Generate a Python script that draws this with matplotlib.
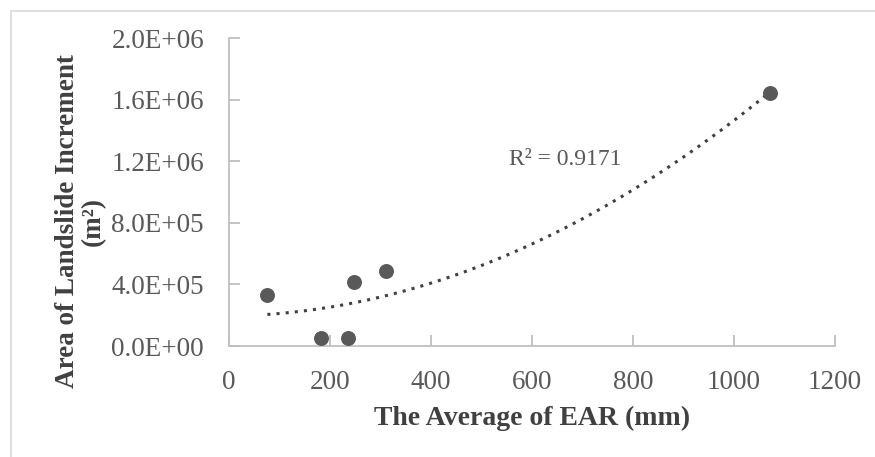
import numpy as np
import matplotlib.pyplot as plt
from matplotlib.patches import Rectangle
from matplotlib.ticker import FuncFormatter

# average EAR (mm) vs landslide area increment (m2)
ear_mm = [76, 182, 235, 248, 311, 1071]
area_m2 = [3.3e5, 5.0e4, 5.0e4, 4.16e5, 4.87e5, 1.643e6]
r2_label = "R² = 0.9171"

plt.rcParams['font.family'] = ['Liberation Serif', 'DejaVu Serif']

fig = plt.figure(figsize=(8.75, 4.57), dpi=100)
fig.patches.append(Rectangle((11 / 875, -0.05), 1.2, 1 - 11 / 457 + 0.05,
                             transform=fig.transFigure, fill=False,
                             edgecolor='#d9d9d9', linewidth=1.2))
ax = fig.add_axes([229 / 875, 1 - 346 / 457, 606 / 875, 308 / 457])

# 2nd order polynomial trendline
coef = np.polyfit(ear_mm, area_m2, 2)
xs = np.linspace(min(ear_mm), max(ear_mm), 200)
ax.plot(xs, np.polyval(coef, xs), linestyle=(0, (1, 2)), color='#404040', linewidth=2.2)
ax.scatter(ear_mm, area_m2, s=95, color='#595959', zorder=3)

ax.set_xlim(0, 1200)
ax.set_ylim(0, 2.0e6)
ax.set_xticks(range(0, 1201, 200))
ax.set_yticks(np.arange(0, 2.01e6, 4e5))
ax.yaxis.set_major_formatter(FuncFormatter(lambda v, p: "%.1E" % v))

for s in ['top', 'right']:
    ax.spines[s].set_visible(False)
for s in ['left', 'bottom']:
    ax.spines[s].set_color('#bfbfbf')
    ax.spines[s].set_linewidth(1.3)
ax.tick_params(direction='in', length=8, width=1.3, color='#bfbfbf',
               labelsize=19.5, labelcolor='#595959', pad=18)
ax.tick_params(axis='x', pad=17)

ax.set_xlabel("The Average of EAR (mm)", fontsize=20, fontweight='bold',
              color='#404040', labelpad=8)
ax.set_ylabel("Area of Landslide Increment\n(m²)", fontsize=19.5,
              fontweight='bold', color='#404040', linespacing=1.05)
ax.yaxis.set_label_coords(-0.203, 0.405)

ax.text(665, 1.208e6, r2_label, fontsize=17, color='#595959', ha='center', va='center')

fig.savefig("out.png", dpi=100)
